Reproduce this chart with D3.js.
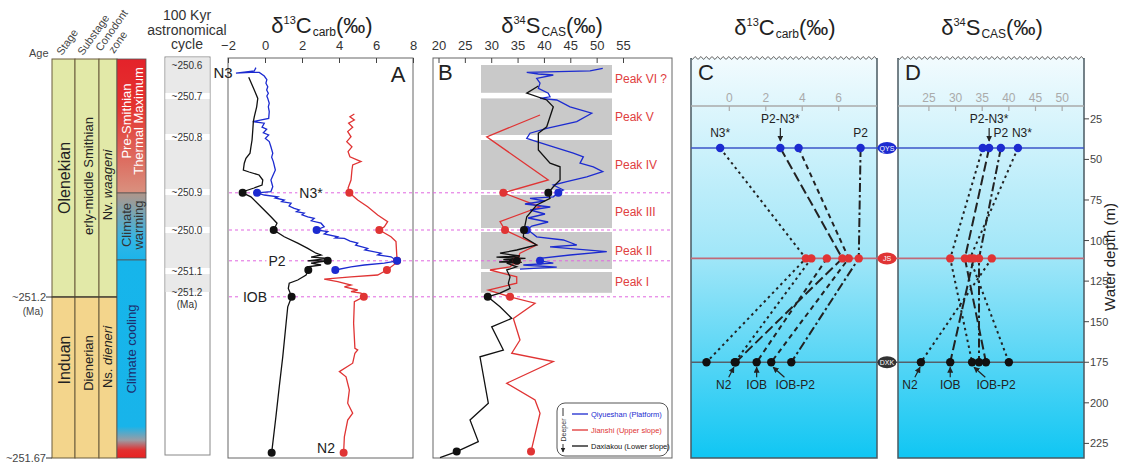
<!DOCTYPE html>
<html>
<head>
<meta charset="utf-8">
<script src="https://cdn.jsdelivr.net/npm/d3@7"></script>
<style>
    body { margin: 0; background: #fff; }
    svg { display: block; font-family: 'Liberation Sans', Arial, sans-serif; }
</style>
</head>
<body>
<svg width="1121" height="464"></svg>
<script>

/*
*   Data. Vertical positions in A and B are stratigraphic levels (0 = base, 100 = top).
*/

const stages = [
    { name: 'Olenekian', from: 40.25, to: 99.75, labelAt: 70 },
    { name: 'Induan', from: 0, to: 40.25, labelAt: 24.5 },
]
const substages = [
    { name: 'erly-middle Smithian', from: 40.25, to: 99.75, labelAt: 70.5 },
    { name: 'Dienerian', from: 0, to: 40.25, labelAt: 23.75 },
]
const zones = [
    { genus: 'Nv.', species: 'waageni', from: 40.25, to: 99.75, labelAt: 68.25 },
    { genus: 'Ns.', species: 'dieneri', from: 0, to: 40.25, labelAt: 25.25 },
]
const climates = [
    { key: 'hot', lines: ['Pre-Smithian', 'Thermal Maximum'], from: 66.25, to: 99.75, labelAt: 84.25 },
    { key: 'warm', lines: ['Climate', 'warming'], from: 49.5, to: 66.25, labelAt: 58.25 },
    { key: 'cool', lines: ['Climate cooling'], from: 0, to: 49.5, labelAt: 27.25 },
]
const ageLabels = [
    { label: '~251.2', unit: '(Ma)', level: 40.25 },
    { label: '~251.67', level: 0 },
]
const cycles = [
    { label: '~250.6', level: 98.25 },
    { label: '~250.7', level: 90.5 },
    { label: '~250.8', level: 80.25 },
    { label: '~250.9', level: 66.5 },
    { label: '~250.0', level: 57.0 },
    { label: '~251.1', level: 46.75 },
    { label: '~251.2', unit: '(Ma)', level: 41.5 },
]
const cycleShadeFrom = 41.5

const horizons = [
    { name: 'N3*', level: 66.3 },
    { name: '', level: 57.0 },
    { name: 'P2', level: 49.3 },
    { name: 'IOB', level: 40.3 },
]

// A: d13C carb [value, level]
const qysC = [[-0.49,97.6],[-0.58,96.75],[-1.57,96.2],[-0.76,96.4],[-0.31,96.4],[-0.04,95.5],[0.1,94.6],[0.05,93.7],[0.15,92.8],[0.09,92.0],[0.18,91.2],[0.1,90.5],[0.15,89.9],[0.23,88.7],[0.18,87.8],[0.23,86.6],[0.2,84.9],[-0.66,84.1],[-0.04,83.7],[-0.16,82.7],[0.09,82.2],[-0.09,81.3],[0.2,80.75],[0.02,79.9],[0.23,79.1],[0.32,77.8],[0.42,76.2],[0.36,75.2],[0.45,74.1],[0.56,72.0],[0.32,69.5],[0.42,67.8],[0.32,66.6],[-0.43,66.3],[-0.04,65.75],[0.69,65.3],[0.55,65.0],[1.04,64.5],[0.9,64.1],[1.41,63.7],[1.3,63.0],[1.58,62.4],[1.85,62.0],[1.7,61.6],[2.12,61.2],[2.0,60.8],[2.31,60.3],[2.66,59.9],[2.5,59.3],[3.03,58.7],[3.2,57.8],[2.79,57.0],[3.39,56.6],[3.2,56.0],[3.93,55.3],[3.8,55.0],[4.29,54.9],[4.6,54.2],[5.01,53.7],[4.9,53.2],[5.55,52.4],[5.4,52.0],[6.27,51.2],[6.1,50.8],[6.81,50.3],[7.14,49.3],[6.45,48.7],[5.37,48.25],[4.65,47.8],[3.8,47.0]]
const jsC = [[4.83,86.0],[4.59,85.3],[4.83,84.5],[4.52,83.7],[4.74,82.7],[4.47,81.6],[4.65,80.3],[4.42,79.1],[4.7,77.8],[4.49,76.6],[4.59,75.3],[5.19,74.1],[4.74,73.25],[4.7,72.0],[4.65,69.5],[4.49,67.5],[4.56,66.3],[5.01,64.5],[5.55,62.8],[6.09,60.75],[6.63,59.1],[6.45,57.8],[6.18,57.0],[6.81,55.3],[7.08,54.1],[7.14,49.3],[7.08,48.7],[6.59,47.0],[6.09,45.75],[4.65,45.3],[3.2,44.7],[3.93,44.1],[4.65,43.25],[4.29,42.8],[5.01,42.0],[4.65,41.6],[5.19,41.2],[5.34,40.3],[4.83,39.1],[4.79,33.7],[4.86,27.4],[5.01,27.0],[4.86,26.2],[4.74,23.7],[4.02,21.6],[4.38,20.3],[4.56,17.0],[4.47,13.7],[4.74,11.2],[4.47,9.5],[4.29,5.3],[4.25,1.3]]
const dxkC = [[-0.88,95.2],[-0.58,92.0],[-0.39,89.9],[-0.45,87.8],[-0.58,85.3],[-0.63,84.1],[-0.66,82.0],[-0.7,79.5],[-0.76,77.8],[-0.81,76.2],[-1.03,74.9],[-1.12,73.7],[-1.17,72.0],[-0.86,71.5],[-0.32,70.75],[-0.12,69.5],[-0.16,68.25],[-0.59,67.5],[-1.08,66.75],[-1.21,66.3],[-0.76,65.3],[-0.22,62.8],[0.32,60.3],[0.65,58.7],[0.47,57.0],[1.04,55.3],[1.77,53.7],[2.31,52.4],[2.76,51.2],[3.03,50.75],[2.49,50.2],[3.39,49.9],[2.31,49.3],[3.39,49.3],[2.49,48.7],[3.03,48.25],[2.31,47.8],[2.34,47.0],[2.22,45.75],[1.77,44.5],[1.31,43.7],[1.26,42.4],[1.44,40.3],[1.23,37.8],[1.14,33.7],[0.96,25.3],[0.77,17.8],[0.59,10.3],[0.36,1.3]]
const qysCDots = [[-0.43,66.3],[2.79,57.0],[7.14,49.3],[3.8,47.0]]
const jsCDots = [[4.56,66.3],[6.18,57.0],[7.14,49.3],[6.59,47.0],[5.34,40.3],[4.25,1.3]]
const dxkCDots = [[-1.21,66.3],[0.47,57.0],[3.39,49.3],[2.34,47.0],[1.44,40.3],[0.36,1.3]]

// B: d34S CAS [value, level]
const qysS = [[51.16,97.4],[48.75,96.8],[36.74,96.4],[38.94,96.0],[41.78,95.75],[38.63,94.9],[39.26,93.7],[38.94,92.4],[40.83,91.2],[41.16,90.3],[39.26,89.9],[42.43,89.5],[44.95,87.8],[49.07,86.2],[46.22,84.1],[40.53,82.4],[37.36,81.2],[36.74,79.9],[38.63,79.1],[41.78,77.8],[45.58,76.2],[47.48,75.3],[46.85,73.7],[49.37,72.8],[51.16,71.6],[48.12,70.3],[44.33,69.1],[41.78,68.25],[43.68,67.0],[42.73,66.3],[41.78,65.3],[37.36,64.9],[40.2,64.25],[36.4,63.5],[41.2,62.75],[37.4,62.0],[40.2,61.0],[37.0,60.0],[40.8,59.0],[37.7,58.0],[36.74,57.0],[37.36,56.6],[38.63,55.3],[43.68,54.5],[46.22,53.25],[41.16,52.8],[51.92,51.6],[44.95,50.75],[39.26,49.9],[39.26,49.3],[41.78,48.7],[36.09,48.25],[42.43,47.7],[35.46,47.2]]
const jsS = [[39.26,85.75],[29.15,80.3],[40.83,69.5],[32.3,66.3],[39.26,62.8],[31.67,59.1],[32.62,57.0],[38.63,53.25],[35.46,51.2],[34.84,49.3],[33.57,47.8],[29.77,47.0],[34.84,45.3],[34.84,43.7],[29.45,42.0],[33.57,40.3],[38.31,38.7],[34.2,34.9],[35.46,29.5],[33.89,26.2],[41.78,24.1],[32.94,18.7],[38.31,14.5],[39.26,11.2],[37.55,1.6]]
const dxkS = [[38.94,93.0],[36.74,91.2],[40.53,89.5],[41.78,87.8],[40.53,82.8],[38.94,81.2],[38.94,77.0],[41.16,73.7],[43.06,72.8],[43.06,69.5],[41.78,67.8],[40.83,66.3],[41.16,64.9],[38.63,63.25],[36.74,60.3],[36.22,57.0],[36.09,55.3],[38.63,53.25],[34.84,52.0],[31.67,51.2],[35.46,50.5],[31.0,50.2],[36.5,49.9],[32.3,49.6],[34.84,49.3],[31.5,49.0],[35.8,48.9],[32.94,48.7],[34.84,47.8],[32.94,47.0],[33.57,45.3],[33.25,43.7],[33.57,42.4],[31.67,41.2],[29.34,40.3],[31.67,37.8],[33.89,34.9],[30.09,32.8],[32.3,27.0],[27.87,25.3],[29.45,13.7],[25.98,9.5],[27.55,4.1],[23.45,1.6],[20.28,0.1]]
const qysSDots = [[42.73,66.3],[36.74,57.0],[39.26,49.3]]
const jsSDots = [[32.3,66.3],[32.62,57.0],[34.84,49.3],[33.57,40.3],[37.55,1.6]]
const dxkSDots = [[40.83,66.3],[36.22,57.0],[34.84,49.3],[29.34,40.3],[23.45,1.6]]

const peaks = [
    { name: 'Peak VI ?', from: 91.3, to: 98.25 },
    { name: 'Peak V', from: 80.75, to: 89.9 },
    { name: 'Peak IV', from: 67.0, to: 79.5 },
    { name: 'Peak III', from: 57.5, to: 65.75 },
    { name: 'Peak II', from: 47.25, to: 56.5 },
    { name: 'Peak I', from: 41.3, to: 46.5 },
]

// C, D: water depth of sites (m) and horizon values at QYS, JS, DXK
const sites = [
    { key: 'QYS', name: 'Qiyueshan (Platform)', depth: 43 },
    { key: 'JS', name: 'Jianshi (Upper slope)', depth: 111 },
    { key: 'DXK', name: 'Daxiakou (Lower slope)', depth: 175 },
]
const carbLinks = [
    { name: 'N3*', style: 'dotted', values: [-0.5, 4.2, -1.25] },
    { name: 'P2-N3*', style: 'long', values: [2.8, 6.2, 0.35] },
    { name: 'IOB-P2', style: 'dashed', values: [3.8, 6.55, 2.3] },
    { name: 'P2', style: 'dashdot', values: [7.2, 7.1, 3.4] },
    { name: 'N2', style: 'dotted', values: [null, 4.5, 0.3] },
    { name: 'IOB', style: 'dashed', values: [null, 5.35, 1.5] },
]
const sulfLinks = [
    { name: 'N3*', style: 'dotted', values: [41.7, 32.7, 40.0] },
    { name: 'P2-N3*', style: 'long', values: [36.3, 31.75, 35.7] },
    { name: 'IOB-P2', style: 'dotted', values: [35.1, 29.0, 33.1] },
    { name: 'P2', style: 'dashdot', values: [38.5, 34.4, 34.4] },
    { name: 'N2', style: 'dotted', values: [null, 36.8, 23.5] },
    { name: 'IOB', style: 'long', values: [null, 33.4, 29.0] },
]

const carbTicks = [-2, 0, 2, 4, 6, 8]
const sulfTicks = [20, 25, 30, 35, 40, 45, 50, 55]
const crossCarbTicks = [0, 2, 4, 6]
const crossSulfTicks = [25, 30, 35, 40, 45, 50]
const depthTicks = [25, 50, 75, 100, 125, 150, 175, 200, 225]


/*
*   Colors
*/

const COLORS = {
    QYS: '#1c2bd0',
    JS: '#e03434',
    DXK: '#111',
    olenekian: '#e2e9a8',
    induan: '#f3d58c',
    colBorder: '#6a5c3c',
    horizon: '#e066e0',
    peakFill: '#c9c9c9',
    peakText: '#e04040',
    frame: '#666',
    grey: '#aaa',
}
const DASHES = { dotted: '2.5,3.5', dashed: '5,4', long: '10,4', dashdot: '9,3,2.5,3' }


/*
*   Scales
*/

const yLevel = d3.scaleLinear().domain([0, 100]).range([458, 58])
const xA = d3.scaleLinear().domain([-2, 8]).range([228, 413])
const xB = d3.scaleLinear().domain([20, 55]).range([438.5, 623])
const xC = d3.scaleLinear().domain([-2.1, 8.1]).range([691, 877])
const xD = d3.scaleLinear().domain([19.2, 54.1]).range([898, 1084])
const yDepth = d3.scaleLinear().domain([-12.5, 234]).range([58, 458])

const svg = d3.select('svg')
const defs = svg.append('defs')

const gradient = (id, stops) => {
    const g = defs.append('linearGradient').attr('id', id)
        .attr('x1', 0).attr('y1', 0).attr('x2', 0).attr('y2', 1)
    stops.forEach(([o, c]) => g.append('stop').attr('offset', o).attr('stop-color', c))
}
gradient('hot', [[0, '#e4222a'], [0.35, '#e4322e'], [1, '#d9917f']])
gradient('warm', [[0, '#b0968a'], [0.7, '#32b6e6'], [1, '#1cb4ea']])
gradient('cool', [[0, '#16b5eb'], [0.84, '#18b4ea'], [0.91, '#9a9ca4'], [0.96, '#e23030'], [1, '#e82222']])
gradient('water', [[0, '#f2fbfe'], [0.5, '#a0e6f8'], [1, '#10c6f3']])

defs.append('marker').attr('id', 'arrow').attr('viewBox', '0 0 10 10')
    .attr('refX', 9).attr('refY', 5).attr('markerWidth', 5).attr('markerHeight', 5)
    .attr('orient', 'auto-start-reverse')
    .append('path').attr('d', 'M0,0L10,5L0,10z').attr('fill', '#222')

const vText = (x, y, size, fill) => svg.append('text')
    .attr('transform', `translate(${x},${y}) rotate(-90)`)
    .attr('text-anchor', 'middle').attr('font-size', size).attr('fill', fill || '#222')


/*
*   Titles
*/

const title = (x, y, sup, main, sub) => {
    const t = svg.append('text').attr('x', x).attr('y', y)
        .attr('text-anchor', 'middle').attr('font-size', 22).attr('fill', '#222')
    t.append('tspan').text('δ')
    t.append('tspan').attr('font-size', 11).attr('dy', -9).text(sup)
    t.append('tspan').attr('dy', 9).text(main)
    t.append('tspan').attr('font-size', 12).attr('dy', 3).attr('dx', 1).text(sub)
    t.append('tspan').attr('dy', -3).text('(‰)')
}
title(322, 33, '13', 'C', 'carb')
title(552, 33, '34', 'S', 'CAS')
title(785, 35, '13', 'C', 'carb')
title(992, 35, '34', 'S', 'CAS')

;['100 Kyr', 'astronomical', 'cycle'].forEach((s, i) => {
    svg.append('text').attr('x', 187).attr('y', 20 + i * 14.5).attr('text-anchor', 'middle')
        .attr('font-size', 14).attr('fill', '#333').text(s)
})


/*
*   Stratigraphic column
*/

const COLS = [52, 75, 99, 117, 146]
const fillFor = i => i === 0 ? COLORS.olenekian : COLORS.induan

;[stages, substages, zones].forEach((col, c) => {
    col.forEach((d, i) => {
        svg.append('rect').attr('x', COLS[c]).attr('width', COLS[c + 1] - COLS[c])
            .attr('y', yLevel(d.to)).attr('height', yLevel(d.from) - yLevel(d.to))
            .attr('fill', fillFor(i)).attr('stroke', COLORS.colBorder).attr('stroke-width', 1)
    })
})
stages.forEach(d => vText(69.5, yLevel(d.labelAt), 16).text(d.name))
substages.forEach(d => vText(92.5, yLevel(d.labelAt), 13).text(d.name))
zones.forEach(d => {
    const t = vText(112, yLevel(d.labelAt), 13)
    t.append('tspan').text(d.genus + ' ')
    t.append('tspan').attr('font-style', 'italic').text(d.species)
})
climates.forEach(d => {
    svg.append('rect').attr('x', COLS[3]).attr('width', COLS[4] - COLS[3])
        .attr('y', yLevel(d.to)).attr('height', yLevel(d.from) - yLevel(d.to))
        .attr('fill', `url(#${d.key})`).attr('stroke', '#555').attr('stroke-width', 0.8)
    const fill = d.key === 'hot' ? '#fff' : d.key === 'warm' ? '#333' : '#1d2e6e'
    d.lines.forEach((s, i) => {
        const x = d.lines.length === 1 ? 136 : 131 + i * 12
        vText(x, yLevel(d.labelAt), 13, fill).text(s)
    })
})

svg.append('text').attr('x', 29).attr('y', 57).attr('font-size', 11).attr('fill', '#444').text('Age')
;[['Stage', 62, 56], ['Substage', 83, 56], ['Conodont', 101, 52], ['zone', 114, 54]].forEach(([s, x, y]) => {
    svg.append('text').attr('transform', `translate(${x},${y}) rotate(-55)`)
        .attr('font-size', 11).attr('fill', '#444').text(s)
})
ageLabels.forEach(d => {
    const y = yLevel(d.level)
    svg.append('line').attr('x1', 46).attr('x2', d.unit ? COLS[3] : COLS[0])
        .attr('y1', y).attr('y2', y).attr('stroke', '#333').attr('stroke-width', 1)
    svg.append('text').attr('x', 46).attr('y', y + 4).attr('text-anchor', 'end')
        .attr('font-size', 11).attr('fill', '#444').text(d.label)
    if (d.unit) svg.append('text').attr('x', 33).attr('y', y + 18).attr('text-anchor', 'middle')
        .attr('font-size', 10).attr('fill', '#444').text(d.unit)
})


/*
*   Astronomical cycle column
*/

svg.append('rect').attr('x', 165).attr('y', 57).attr('width', 45).attr('height', 398)
    .attr('fill', '#fff').attr('stroke', '#888')
svg.append('rect').attr('x', 165.5).attr('y', 57.5).attr('width', 44)
    .attr('height', yLevel(cycleShadeFrom) - 57.5).attr('fill', '#e9e9e9')
cycles.forEach((d, i) => {
    const y = yLevel(d.level)
    if (i > 0 && !d.unit) svg.append('rect').attr('x', 165.5).attr('width', 44)
        .attr('y', y - 3).attr('height', 6).attr('fill', '#fff')
    svg.append('text').attr('x', 187).attr('y', y + 4).attr('text-anchor', 'middle')
        .attr('font-size', 10).attr('fill', '#333').text(d.label)
    if (d.unit) svg.append('text').attr('x', 187).attr('y', y + 16).attr('text-anchor', 'middle')
        .attr('font-size', 10).attr('fill', '#333').text(d.unit)
})


/*
*   Panels A and B
*/

svg.append('rect').attr('x', 228).attr('y', 58).attr('width', 185).attr('height', 400)
    .attr('fill', 'none').attr('stroke', COLORS.frame)
svg.append('rect').attr('x', 433).attr('y', 58).attr('width', 239).attr('height', 400)
    .attr('fill', 'none').attr('stroke', COLORS.frame)

peaks.forEach(d => {
    svg.append('rect').attr('x', 481).attr('width', 131)
        .attr('y', yLevel(d.to)).attr('height', yLevel(d.from) - yLevel(d.to))
        .attr('fill', COLORS.peakFill)
    svg.append('text').attr('x', 615).attr('y', (yLevel(d.to) + yLevel(d.from)) / 2 + 4)
        .attr('font-size', 12).attr('fill', COLORS.peakText).text(d.name)
})

const drawAxis = (scale, ticks) => {
    const g = svg.append('g').attr('transform', 'translate(0,58)')
        .call(d3.axisTop(scale).tickValues(ticks).tickSizeInner(-5).tickSizeOuter(0).tickPadding(8))
    g.select('.domain').remove()
    g.selectAll('line').attr('stroke', '#444')
    g.selectAll('text').attr('font-size', 13).attr('fill', '#333')
        .attr('font-family', 'Liberation Sans, Arial, sans-serif')
}
drawAxis(xA, carbTicks)
drawAxis(xB, sulfTicks)

horizons.forEach(d => {
    const y = yLevel(d.level)
    svg.append('line').attr('x1', 229).attr('x2', 671).attr('y1', y).attr('y2', y)
        .attr('stroke', COLORS.horizon).attr('stroke-width', 1).attr('stroke-dasharray', '3,3')
})

const curve = (data, x, color) => svg.append('path').datum(data)
    .attr('d', d3.line().x(d => x(d[0])).y(d => yLevel(d[1])))
    .attr('fill', 'none').attr('stroke', color).attr('stroke-width', 1.3)
const dots = (data, x, color) => svg.append('g').selectAll('circle').data(data).join('circle')
    .attr('cx', d => x(d[0])).attr('cy', d => yLevel(d[1])).attr('r', 4).attr('fill', color)

curve(jsC, xA, COLORS.JS)
curve(qysC, xA, COLORS.QYS)
curve(dxkC, xA, COLORS.DXK)
dots(jsCDots, xA, COLORS.JS)
dots(qysCDots, xA, COLORS.QYS)
dots(dxkCDots, xA, COLORS.DXK)

curve(jsS, xB, COLORS.JS)
curve(qysS, xB, COLORS.QYS)
curve(dxkS, xB, COLORS.DXK)
dots(jsSDots, xB, COLORS.JS)
dots(qysSDots, xB, COLORS.QYS)
dots(dxkSDots, xB, COLORS.DXK)

const tag = (s, x, y, size, bg) => {
    const t = svg.append('text').attr('x', x).attr('y', y).attr('text-anchor', 'middle')
        .attr('font-size', size).attr('fill', '#222').text(s)
    if (bg) {
        const b = t.node().getBBox()
        svg.insert('rect', () => t.node()).attr('x', b.x - 2).attr('y', b.y + 2)
            .attr('width', b.width + 4).attr('height', b.height - 4).attr('fill', '#fff')
    }
    return t
}
tag('N3', 223, 78, 15, false)
tag('N3*', 311, 198, 14, true)
tag('P2', 277, 266, 14, true)
tag('IOB', 255, 302, 14, true)
tag('N2', 326, 453, 14, false)
svg.append('text').attr('x', 398).attr('y', 82).attr('text-anchor', 'middle')
    .attr('font-size', 22).attr('fill', '#222').text('A')
svg.append('text').attr('x', 438).attr('y', 80)
    .attr('font-size', 22).attr('fill', '#222').text('B')

// legend
svg.append('rect').attr('x', 557).attr('y', 403).attr('width', 111).attr('height', 53)
    .attr('rx', 8).attr('fill', '#fff').attr('stroke', '#555')
sites.forEach((d, i) => {
    const y = 414 + i * 16
    svg.append('line').attr('x1', 572).attr('x2', 588).attr('y1', y).attr('y2', y)
        .attr('stroke', COLORS[d.key]).attr('stroke-width', 1.3)
    svg.append('text').attr('x', 591).attr('y', y + 2.5).attr('font-size', 7.5)
        .attr('fill', COLORS[d.key]).text(d.name)
})
svg.append('line').attr('x1', 563).attr('x2', 563).attr('y1', 408).attr('y2', 416).attr('stroke', '#333')
svg.append('line').attr('x1', 563).attr('x2', 563).attr('y1', 444).attr('y2', 452)
    .attr('stroke', '#333').attr('marker-end', 'url(#arrow)')
vText(565.5, 430, 7, '#333').text('Deeper')


/*
*   Panels C and D: cross-section by water depth
*/

const crossPanel = (x, links, ticks, letter) => {
    const [x0, x1] = x.range()
    svg.append('rect').attr('x', x0).attr('y', 58).attr('width', x1 - x0).attr('height', 400)
        .attr('fill', 'url(#water)')
    const wave = d3.range(x0, x1 + 0.25, 0.5).map(v => [v, 58 + 1.3 * Math.sin((v - x0) / 5.6 * 2 * Math.PI)])
    svg.append('path').attr('d', d3.line()(wave)).attr('fill', 'none').attr('stroke', '#555').attr('stroke-width', 1)
    svg.append('path').attr('d', `M${x0},58V458H${x1}V58`).attr('fill', 'none')
        .attr('stroke', '#4a5a62').attr('stroke-width', 1.5)

    svg.append('line').attr('x1', x0).attr('x2', x1).attr('y1', 106).attr('y2', 106)
        .attr('stroke', COLORS.grey).attr('stroke-width', 1.5)
    ticks.forEach(t => {
        svg.append('line').attr('x1', x(t)).attr('x2', x(t)).attr('y1', 106).attr('y2', 111)
            .attr('stroke', COLORS.grey).attr('stroke-width', 1.2)
        svg.append('text').attr('x', x(t)).attr('y', 102).attr('text-anchor', 'middle')
            .attr('font-size', 12).attr('fill', COLORS.grey).text(t)
    })
    svg.append('text').attr('x', x0 + 7).attr('y', 80).attr('font-size', 22).attr('fill', '#222').text(letter)

    links.forEach(l => {
        const pts = l.values.map((v, i) => v === null ? null : [x(v), yDepth(sites[i].depth)]).filter(p => p)
        svg.append('path').attr('d', d3.line()(pts)).attr('fill', 'none')
            .attr('stroke', '#222').attr('stroke-width', 2).attr('stroke-dasharray', DASHES[l.style])
    })
}

const siteLines = () => {
    sites.forEach(s => {
        const y = yDepth(s.depth)
        const stroke = s.key === 'QYS' ? '#3b55c8' : s.key === 'JS' ? '#c06a78' : '#55606a'
        svg.append('line').attr('x1', 691).attr('x2', 1084).attr('y1', y).attr('y2', y)
            .attr('stroke', stroke).attr('stroke-width', 1.6)
    })
}

crossPanel(xC, carbLinks, crossCarbTicks, 'C')
crossPanel(xD, sulfLinks, crossSulfTicks, 'D')
siteLines()

const sitePoints = (x, links) => {
    links.forEach(l => l.values.forEach((v, i) => {
        if (v === null) return
        svg.append('circle').attr('cx', x(v)).attr('cy', yDepth(sites[i].depth)).attr('r', 4.2)
            .attr('fill', COLORS[sites[i].key])
    }))
}
sitePoints(xC, carbLinks)
sitePoints(xD, sulfLinks)

sites.forEach(s => {
    const y = yDepth(s.depth)
    svg.append('ellipse').attr('cx', 887).attr('cy', y).attr('rx', 9.5).attr('ry', 6)
        .attr('fill', s.key === 'DXK' ? '#333' : COLORS[s.key])
    svg.append('text').attr('x', 887).attr('y', y + 2.5).attr('text-anchor', 'middle')
        .attr('font-size', 7).attr('fill', '#fff').text(s.key)
})

// horizon labels at QYS (top) and DXK (bottom)
const topLabel = (x, links, name, dx, arrow) => {
    const v = links.find(l => l.name === name).values[0]
    const px = x(v)
    const y = yDepth(sites[0].depth)
    svg.append('text').attr('x', px + dx).attr('y', arrow ? y - 25 : y - 11)
        .attr('text-anchor', 'middle').attr('font-size', 12).attr('fill', '#222').text(name)
    if (arrow) svg.append('line').attr('x1', px).attr('x2', px).attr('y1', y - 20).attr('y2', y - 7)
        .attr('stroke', '#222').attr('stroke-width', 1.2).attr('marker-end', 'url(#arrow)')
}
topLabel(xC, carbLinks, 'N3*', 0, false)
topLabel(xC, carbLinks, 'P2-N3*', 0, true)
topLabel(xC, carbLinks, 'P2', 0, false)
topLabel(xD, sulfLinks, 'P2-N3*', 0, true)
topLabel(xD, sulfLinks, 'P2', 0, false)
topLabel(xD, sulfLinks, 'N3*', 4, false)

const bottomLabel = (x, links, name, dx) => {
    const px = x(links.find(l => l.name === name).values[2])
    const y = yDepth(sites[2].depth)
    svg.append('text').attr('x', px + dx).attr('y', y + 27).attr('text-anchor', 'middle')
        .attr('font-size', 12).attr('fill', '#222').text(name)
    svg.append('line').attr('x1', px + dx * 0.55).attr('x2', px + dx * 0.08)
        .attr('y1', y + 15).attr('y2', y + 5)
        .attr('stroke', '#222').attr('stroke-width', 1.2).attr('marker-end', 'url(#arrow)')
}
;[[xC, carbLinks], [xD, sulfLinks]].forEach(([x, links]) => {
    bottomLabel(x, links, 'N2', -11)
    bottomLabel(x, links, 'IOB', 0)
    bottomLabel(x, links, 'IOB-P2', 24)
})

// depth axis
depthTicks.forEach(t => {
    const y = yDepth(t)
    svg.append('line').attr('x1', 1084).attr('x2', 1089).attr('y1', y).attr('y2', y).attr('stroke', '#444')
    svg.append('text').attr('x', 1090).attr('y', y + 4).attr('font-size', 11).attr('fill', '#444').text(t)
})
vText(1115, 257, 15, '#222').text('Water depth (m)')

</script>
</body>
</html>
